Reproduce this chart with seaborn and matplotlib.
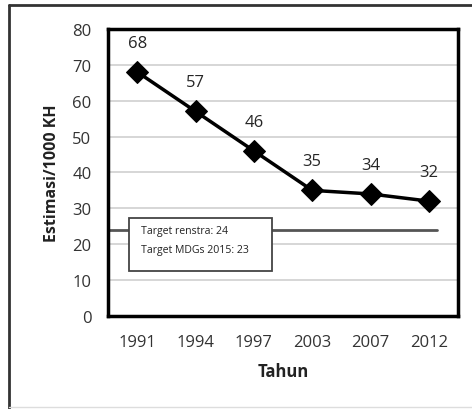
import pandas as pd
import matplotlib.pyplot as plt
import seaborn as sns
from matplotlib.lines import Line2D
from matplotlib.patches import Rectangle

# data
years = ['1991', '1994', '1997', '2003', '2007', '2012']
estimasi = [68, 57, 46, 35, 34, 32]
target_renstra = 24
box_lines = ['Target renstra: 24', 'Target MDGs 2015: 23']
y_ticks = [0, 10, 20, 30, 40, 50, 60, 70, 80]

df = pd.DataFrame({'tahun': years, 'estimasi': estimasi})

sns.set_style('white')
plt.rcParams['font.family'] = ['Open Sans', 'DejaVu Sans']

fig = plt.figure(figsize=(4.72, 4.10), dpi=100)
ax = fig.add_axes([0.229, 0.227, 0.7415, 0.70])

# light grid
for v in y_ticks[1:-1]:
    ax.axhline(v, color='#d0d0d0', lw=1.2, zorder=0)

# target line
ax.axhline(target_renstra, xmin=0, xmax=0.94, color='#555555', lw=2, zorder=1)

sns.lineplot(data=df, x='tahun', y='estimasi', color='black', lw=2.5,
             marker='D', markersize=11, markeredgecolor='black', ax=ax, zorder=3)

for i, v in enumerate(estimasi):
    ax.annotate(str(v), (i, v), xytext=(0, 21), textcoords='offset points',
                ha='center', va='center', fontsize=12, color='#262626')

# text box for targets
ax.add_patch(Rectangle((0.06, 0.157), 0.409, 0.184, transform=ax.transAxes,
                       facecolor='white', edgecolor='#444444', lw=1.3, zorder=4))
ax.text(0.095, 0.297, box_lines[0], transform=ax.transAxes, fontsize=7.6,
        va='center', ha='left', color='#222222', zorder=5)
ax.text(0.095, 0.232, box_lines[1], transform=ax.transAxes, fontsize=7.6,
        va='center', ha='left', color='#222222', zorder=5)

ax.set_xlim(-0.5, 5.5)
ax.set_ylim(0, 80)
ax.set_yticks(y_ticks)
ax.tick_params(axis='y', length=0, pad=12, labelsize=12, labelcolor='#333333')
ax.tick_params(axis='x', length=0, pad=13, labelsize=12, labelcolor='#333333')
ax.set_xlabel('Tahun', fontsize=12, fontweight='bold', color='#222222', labelpad=9)
ax.set_ylabel('Estimasi/1000 KH', fontsize=11.5, fontweight='bold', color='#222222', labelpad=9)

for s in ax.spines.values():
    s.set_color('black')
    s.set_linewidth(2.5)

# outer frame (left and top edges)
fig.add_artist(Line2D([9 / 472, 9 / 472], [0, 1 - 6 / 410], transform=fig.transFigure,
                      color='#333333', lw=2))
fig.add_artist(Line2D([9 / 472, 1], [1 - 6 / 410, 1 - 6 / 410], transform=fig.transFigure,
                      color='#333333', lw=2))
fig.add_artist(Line2D([9 / 472, 1], [2 / 410, 2 / 410], transform=fig.transFigure,
                      color='#dddddd', lw=1))

plt.savefig('out.png', dpi=100)
